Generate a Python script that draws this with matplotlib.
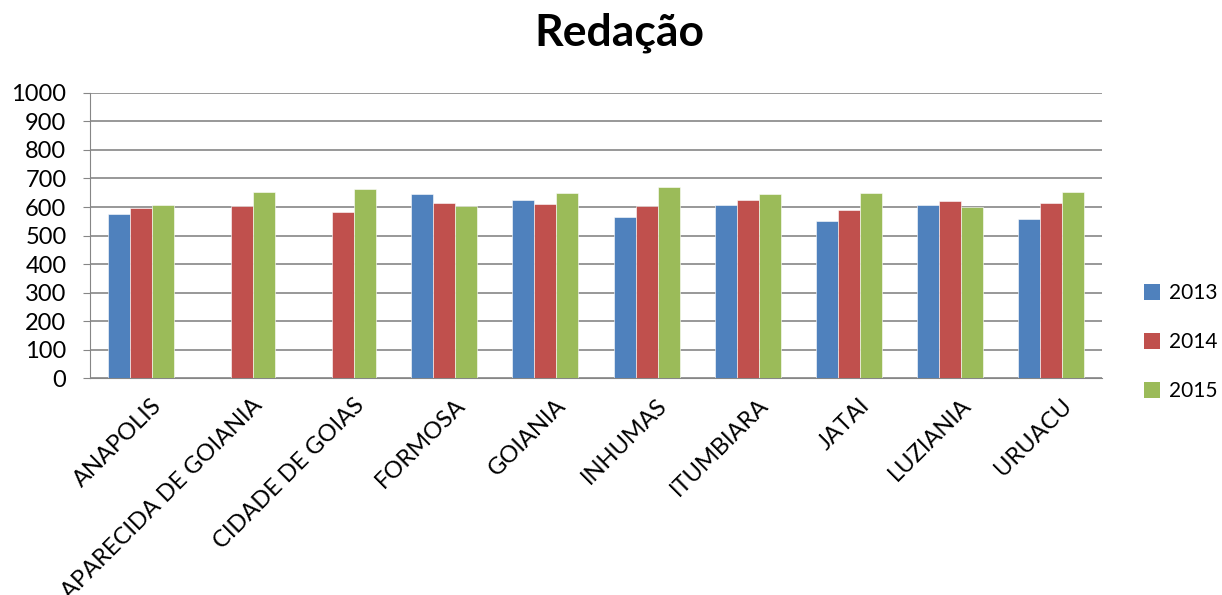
import numpy as np
import matplotlib.pyplot as plt
import matplotlib.transforms as mtransforms
from matplotlib.patches import Patch

plt.rcParams['font.family'] = ['Lato', 'DejaVu Sans']

cidades = ['ANAPOLIS', 'APARECIDA DE GOIANIA', 'CIDADE DE GOIAS', 'FORMOSA', 'GOIANIA',
           'INHUMAS', 'ITUMBIARA', 'JATAI', 'LUZIANIA', 'URUACU']
anos = ['2013', '2014', '2015']
notas_2013 = [577, 0, 0, 644, 626, 564, 607, 550, 606, 559]
notas_2014 = [598, 603, 581, 615, 609, 603, 626, 591, 621, 613]
notas_2015 = [608, 653, 662, 602, 649, 670, 644, 650, 600, 651]
cores = ['#4F81BD', '#C0504D', '#9BBB59']

fig = plt.figure(figsize=(12.22, 5.95), dpi=100)
ax = fig.add_axes([0.0737, 0.3647, 0.8281, 0.479])

x = np.arange(len(cidades))
w = 0.217
for i, (vals, cor) in enumerate(zip([notas_2013, notas_2014, notas_2015], cores)):
    ax.bar(x + (i - 1) * w, vals, width=w, color=cor, edgecolor='white', linewidth=0.4, zorder=3)

ax.set_xlim(-0.5, len(cidades) - 0.5)
ax.set_ylim(0, 1000)
ax.set_yticks(range(0, 1001, 100))
ax.yaxis.grid(True, color='#868686', linewidth=1.2, zorder=0)
ax.tick_params(axis='y', labelsize=17, length=5, color='#868686', pad=12)
ax.tick_params(axis='x', length=0, pad=12)
ax.set_xticks(x)
ax.set_xticklabels(cidades, rotation=45, ha='right', va='top', rotation_mode='anchor', fontsize=17)
desloc = mtransforms.ScaledTranslation(10 / 100, 0, fig.dpi_scale_trans)
for lbl in ax.get_xticklabels():
    lbl.set_transform(lbl.get_transform() + desloc)
for s in ['top', 'right']:
    ax.spines[s].set_visible(False)
ax.spines['left'].set_color('#868686')
ax.spines['bottom'].set_color('#868686')

fig.text(0.507, 0.945, 'Redação', ha='center', va='center', fontsize=32, fontweight='bold')

handles = [Patch(facecolor=c) for c in cores]
fig.legend(handles, anos, loc='center left', bbox_to_anchor=(0.936, 0.425), frameon=False,
           borderpad=0, borderaxespad=0,
           fontsize=15, handlelength=0.8, handleheight=0.8, labelspacing=1.4, handletextpad=0.4)

fig.savefig('out.png', dpi=100)
